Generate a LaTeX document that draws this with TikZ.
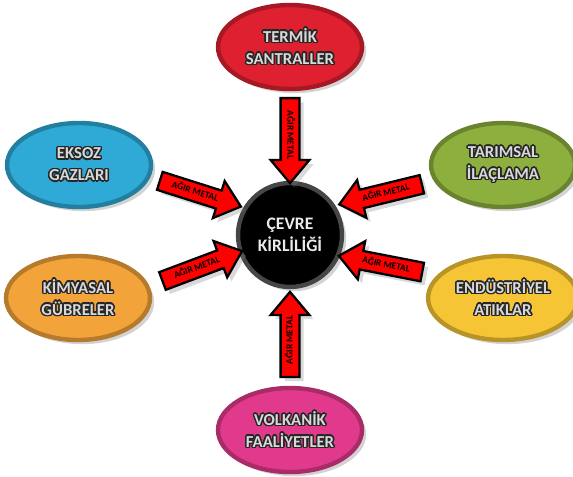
\documentclass[tikz,border=0pt]{standalone}
\usepackage{fontspec}
\setmainfont{Carlito}
\usepackage{xcolor}
\usepackage[copies]{contour}
\usepackage{tikz}
\usetikzlibrary{shapes.geometric,shapes.arrows,shadows}
\contourlength{0.8pt}
\definecolor{termred}{HTML}{DE2030}
\definecolor{eksblue}{HTML}{2FA9D6}
\definecolor{targreen}{HTML}{8CAF3E}
\definecolor{kimorange}{HTML}{F2A33A}
\definecolor{endyellow}{HTML}{F6C535}
\definecolor{volpink}{HTML}{E13A8C}
\newcommand{\ctxt}[1]{\contour{black!85}{#1}}

\begin{document}
\begin{tikzpicture}[x=0.02cm,y=-0.02cm,
  src/.style={ellipse,minimum width=2.88cm,minimum height=1.68cm,fill=#1,draw=#1!75!black,
    line width=2.5pt,drop shadow={opacity=0.35},align=center,text=white!85!black,
    font=\bfseries\fontsize{9.5}{12.5}\selectfont},
  hm/.style={single arrow,draw=black,line width=1.3pt,fill=red,minimum height=1.7cm,
    single arrow head extend=0.2cm,single arrow tip angle=80,text height=4pt,text depth=1pt,
    inner ysep=2.2pt,inner xsep=1pt,drop shadow={opacity=0.3},font=\bfseries\fontsize{5.4}{6}\selectfont}]
\useasboundingbox (0,0) rectangle (573,476);
% sources round the centre
\node[src=termred] (ter) at (290,47) {\ctxt{TERMİK}\\\ctxt{SANTRALLER}};
\node[src=eksblue] (eks) at (79,165) {\ctxt{EKSOZ}\\\ctxt{GAZLARI}};
\node[src=targreen] (tar) at (503,165) {\ctxt{TARIMSAL}\\\ctxt{İLAÇLAMA}};
\node[src=kimorange] (kim) at (78,298) {\ctxt{KİMYASAL}\\\ctxt{GÜBRELER}};
\node[src=endyellow] (end) at (503,298) {\ctxt{ENDÜSTRİYEL}\\\ctxt{ATIKLAR}};
\node[src=volpink] (vol) at (290,430) {\ctxt{VOLKANİK}\\\ctxt{FAALİYETLER}};
\node[circle,minimum size=2.08cm,fill=black,draw=gray!55!black,line width=2.5pt,drop shadow={opacity=0.35},
  align=center,text=white!92!black,font=\bfseries\fontsize{10}{12.5}\selectfont] (cev) at (290,235)
  {ÇEVRE\\KİRLİLİĞİ};
% arrows into the centre
\node[hm,rotate=-90] (arTer) at (290,135) {AĞIR METAL};
\node[hm,rotate=90] (arVol) at (290,340) {AĞIR METAL};
\node[hm,rotate=-17.6] (arEks) at (195,192) {AĞIR METAL};
\node[hm,rotate=20.6] (arKim) at (197,268) {AĞIR METAL};
\node[hm,shape border rotate=180,rotate=13.7] (arTar) at (386,193) {AĞIR METAL};
\node[hm,shape border rotate=180,rotate=-11] (arEnd) at (386,265) {AĞIR METAL};
\end{tikzpicture}
\end{document}
